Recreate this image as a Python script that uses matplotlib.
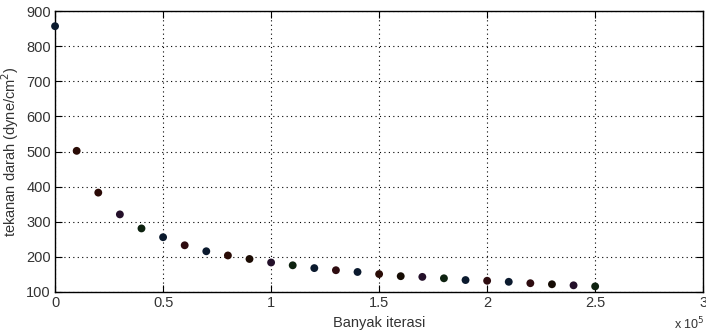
import matplotlib
matplotlib.use('Agg')
import matplotlib.pyplot as plt

# data
iterasi = [0, 10000, 20000, 30000, 40000, 50000, 60000, 70000, 80000, 90000,
           100000, 110000, 120000, 130000, 140000, 150000, 160000, 170000,
           180000, 190000, 200000, 210000, 220000, 230000, 240000, 250000]
tekanan = [857, 502, 383, 321, 281, 256, 233, 216, 204, 194,
           184, 176, 168, 162, 157, 151, 145, 143, 139, 134,
           132, 129, 125, 122, 119, 116]
warna = ['#0b1a2e', '#2a0c06', '#2a0a06', '#24102a', '#0e2210', '#0b1a2e',
         '#2e0c10', '#0b1a2e', '#2a0c06', '#1c0c04', '#24102a', '#0e2210',
         '#0b1a2e', '#2e0c10', '#0b1a2e', '#2a0c06', '#150c04', '#24102a',
         '#0e2210', '#0b1a2e', '#2e0c10', '#0b1a2e', '#2e0c10', '#150c04',
         '#24102a', '#0e2210']
xticks = [0, 50000, 100000, 150000, 200000, 250000, 300000]
xlabels = ['0', '0.5', '1', '1.5', '2', '2.5', '3']
yticks = [100, 200, 300, 400, 500, 600, 700, 800, 900]

plt.rcParams['font.family'] = ['Liberation Sans', 'DejaVu Sans']
plt.rcParams['font.size'] = 10

fig = plt.figure(figsize=(7.06, 3.36), dpi=100)
ax = fig.add_axes([0.078, 0.131, 0.918, 0.836])

ax.scatter(iterasi, tekanan, c=warna, s=32, zorder=3, edgecolors='none', clip_on=False)

ax.set_xlim(0, 300000)
ax.set_ylim(100, 900)
ax.set_xticks(xticks)
ax.set_xticklabels(xlabels)
ax.set_yticks(yticks)
ax.tick_params(direction='in', length=5, top=True, right=True, colors='black',
               labelcolor='#333333', labelsize=10.5, pad=3)
ax.grid(True, linestyle=(0, (1, 3)), color='black', linewidth=0.8)
for s in ax.spines.values():
    s.set_linewidth(1)

ax.set_xlabel('Banyak iterasi', fontsize=10.5, color='#333333', labelpad=4)
ax.set_ylabel('tekanan darah (dyne/cm$^2$)', fontsize=10.5, color='#333333', labelpad=4)
fig.text(0.955, 0.02, r'x 10$^5$', fontsize=9, color='#333333')

fig.savefig('out.png', dpi=100)
